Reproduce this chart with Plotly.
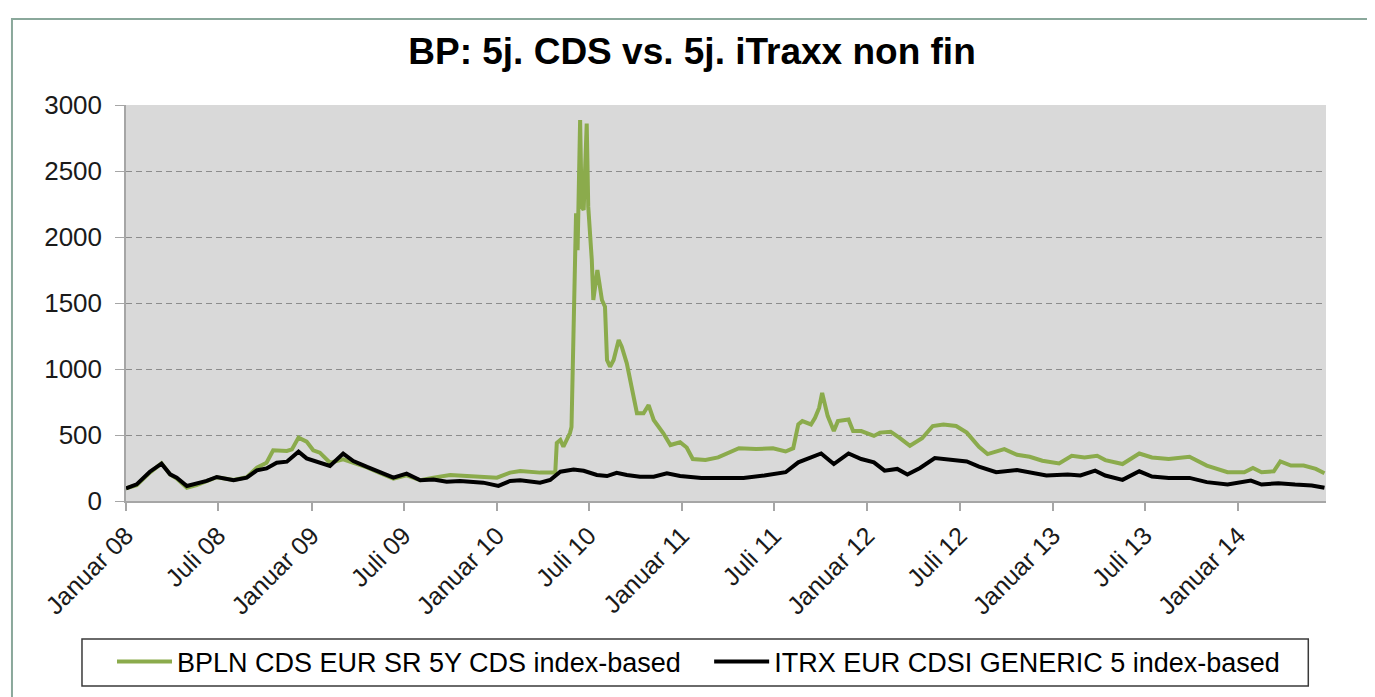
import plotly.graph_objects as go

# ---- data ----
green_dates = [
    "2008-01-01", "2008-01-22", "2008-02-17", "2008-03-11", "2008-03-28", "2008-04-10", "2008-04-30",
    "2008-05-19", "2008-06-08", "2008-06-28", "2008-07-31", "2008-08-26", "2008-09-15", "2008-10-04",
    "2008-10-17", "2008-11-13", "2008-11-23", "2008-12-06", "2008-12-22", "2009-01-04", "2009-01-17",
    "2009-02-06", "2009-03-04", "2009-03-24", "2009-04-20", "2009-05-16", "2009-06-11", "2009-07-07",
    "2009-08-03", "2009-08-29", "2009-10-01", "2009-11-03", "2010-01-01", "2010-01-27", "2010-02-16",
    "2010-03-27", "2010-04-26", "2010-04-29", "2010-05-06", "2010-05-12", "2010-05-25", "2010-05-28",
    "2010-05-31", "2010-06-06", "2010-06-09", "2010-06-14", "2010-06-17", "2010-06-21", "2010-06-27",
    "2010-06-30", "2010-07-07", "2010-07-10", "2010-07-18", "2010-07-27", "2010-08-02", "2010-08-06",
    "2010-08-12", "2010-08-19", "2010-08-29", "2010-09-04", "2010-09-14", "2010-09-24", "2010-10-04",
    "2010-10-17", "2010-10-27", "2010-11-06", "2010-11-25", "2010-12-09", "2010-12-28", "2011-01-10",
    "2011-01-22", "2011-02-16", "2011-03-13", "2011-04-23", "2011-05-27", "2011-06-29", "2011-07-24",
    "2011-08-08", "2011-08-18", "2011-08-26", "2011-09-12", "2011-09-20", "2011-09-28", "2011-10-04",
    "2011-10-15", "2011-10-27", "2011-11-04", "2011-11-25", "2011-12-04", "2011-12-20", "2012-01-14",
    "2012-01-26", "2012-02-16", "2012-03-04", "2012-03-25", "2012-04-18", "2012-05-09", "2012-05-30",
    "2012-06-24", "2012-07-15", "2012-08-08", "2012-08-25", "2012-09-27", "2012-10-22", "2012-11-16",
    "2012-12-11", "2013-01-13", "2013-02-07", "2013-03-04", "2013-03-29", "2013-04-14", "2013-05-18",
    "2013-06-20", "2013-07-15", "2013-08-17", "2013-09-27", "2013-10-31", "2013-12-11", "2014-01-13",
    "2014-01-30", "2014-02-16", "2014-03-12", "2014-03-25", "2014-04-15", "2014-05-10", "2014-06-03",
    "2014-06-20",
]
green_values = [
    95, 120, 215, 285, 200, 170, 101,
    120, 150, 180, 160, 180, 252, 290,
    384, 379, 391, 480, 450, 384, 366,
    290, 315, 290, 255, 210, 170, 195,
    157, 177, 197, 189, 177, 215, 227,
    215, 215, 439, 462, 411, 515, 560,
    1220, 2180, 1900, 2886, 2230, 2205, 2860,
    2230, 1826, 1523, 1750, 1523, 1472, 1068,
    1017, 1068, 1220, 1169, 1043, 841, 665,
    665, 727, 614, 513, 424, 445, 405,
    318, 310, 330, 400, 393, 400, 375,
    400, 580, 605, 580, 630, 705, 818,
    643, 530, 605, 618, 530, 530, 493,
    518, 525, 480, 418, 475, 568, 580,
    568, 518, 410, 355, 393, 350, 335,
    305, 285, 343, 330, 343, 310, 280,
    360, 330, 318, 335, 268, 218, 218,
    250, 218, 225, 300, 268, 268, 243,
    210,
]

black_dates = [
    "2008-01-01", "2008-01-22", "2008-02-17", "2008-03-11", "2008-03-28", "2008-04-10", "2008-04-30",
    "2008-05-19", "2008-06-08", "2008-06-28", "2008-07-31", "2008-08-26", "2008-09-15", "2008-10-04",
    "2008-10-24", "2008-11-13", "2008-12-06", "2008-12-22", "2009-01-11", "2009-02-06", "2009-03-04",
    "2009-03-24", "2009-04-20", "2009-05-16", "2009-06-11", "2009-07-07", "2009-08-03", "2009-08-29",
    "2009-09-24", "2009-10-20", "2009-11-16", "2009-12-05", "2010-01-04", "2010-01-27", "2010-02-16",
    "2010-03-27", "2010-04-16", "2010-05-06", "2010-06-01", "2010-06-21", "2010-07-17", "2010-08-06",
    "2010-08-25", "2010-09-14", "2010-10-10", "2010-11-06", "2010-12-02", "2010-12-28", "2011-02-08",
    "2011-03-21", "2011-05-02", "2011-06-12", "2011-07-24", "2011-08-18", "2011-09-12", "2011-10-02",
    "2011-10-27", "2011-11-25", "2011-12-20", "2012-01-14", "2012-02-04", "2012-02-29", "2012-03-20",
    "2012-04-14", "2012-05-13", "2012-06-11", "2012-07-15", "2012-08-08", "2012-09-11", "2012-10-22",
    "2012-11-16", "2012-12-19", "2013-01-30", "2013-02-24", "2013-03-25", "2013-04-14", "2013-05-18",
    "2013-06-20", "2013-07-15", "2013-08-17", "2013-09-27", "2013-10-31", "2013-12-11", "2014-01-26",
    "2014-02-16", "2014-03-21", "2014-04-23", "2014-05-26", "2014-06-20",
]
black_values = [
    96, 126, 222, 283, 202, 177, 114,
    131, 152, 182, 157, 177, 232, 247,
    290, 298, 374, 323, 295, 265, 359,
    303, 258, 215, 177, 207, 157, 162,
    146, 152, 146, 139, 114, 152, 157,
    139, 159, 222, 239, 229, 197, 189,
    214, 197, 184, 184, 210, 190, 175,
    175, 175, 193, 218, 293, 330, 360,
    280, 360, 318, 293, 230, 243, 200,
    250, 325, 310, 300, 260, 218, 235,
    218, 193, 200, 193, 230, 193, 160,
    225, 185, 175, 175, 143, 125, 155,
    125, 135, 125, 118, 100,
]

tick_dates = [
    "2008-01-01", "2008-07-01", "2009-01-01", "2009-07-01", "2010-01-01", "2010-07-01", "2011-01-01",
    "2011-07-01", "2012-01-01", "2012-07-01", "2013-01-01", "2013-07-01", "2014-01-01",
]
tick_labels = [
    "Januar 08", "Juli 08", "Januar 09", "Juli 09", "Januar 10", "Juli 10", "Januar 11",
    "Juli 11", "Januar 12", "Juli 12", "Januar 13", "Juli 13", "Januar 14",
]
y_ticks = [0, 500, 1000, 1500, 2000, 2500, 3000]

name_green = "BPLN CDS EUR SR 5Y CDS index-based"
name_black = "ITRX EUR CDSI GENERIC 5 index-based"
title_text = "BP: 5j. CDS vs. 5j. iTraxx non fin"

FONT = "Liberation Sans, Arial, sans-serif"

# the page body adds an 8px offset; work in window pixels and shift
OFF = 8
W, H = 1375, 697
PL, PR, PT, PB = 126, 1325.7, 105, 501          # plot area in window pixels
L, T = PL - OFF, PT - OFF
pw, ph = PR - PL, PB - PT
R, B = W - L - pw, H - T - ph


def px(xw):
    return (xw - PL) / pw


def py(yw):
    return (PB - yw) / ph


fig = go.Figure()
fig.add_trace(go.Scatter(x=green_dates, y=green_values, mode="lines", name=name_green,
                         line=dict(color="#8bab4c", width=4), legend="legend"))
fig.add_trace(go.Scatter(x=black_dates, y=black_values, mode="lines", name=name_black,
                         line=dict(color="#000000", width=4), legend="legend2"))

shapes = [
    # outer chart frame
    dict(type="rect", xref="paper", yref="paper", x0=px(12), x1=px(1373), y0=py(710), y1=py(19),
         line=dict(color="#8aa89b", width=2), fillcolor="rgba(0,0,0,0)", layer="below"),
    # legend box
    dict(type="rect", xref="paper", yref="paper", x0=px(82), x1=px(1308), y0=py(686), y1=py(639),
         line=dict(color="#3a3a3a", width=1.5), fillcolor="rgba(0,0,0,0)"),
]

leg_common = dict(orientation="h", xanchor="left", yanchor="middle", bgcolor="rgba(0,0,0,0)",
                  borderwidth=0, font=dict(size=27, color="#000000", family=FONT), itemwidth=55)

fig.update_layout(
    width=W, height=H,
    margin=dict(l=L, r=R, t=T, b=B),
    paper_bgcolor="white",
    plot_bgcolor="#d9d9d9",
    font=dict(family=FONT, color="#1a1a1a", size=24),
    title=dict(text="<b>" + title_text + "</b>", x=(692 - OFF) / W, xanchor="center",
               y=1 - (51 - OFF) / H, yanchor="middle", font=dict(size=37, color="#000000", family=FONT)),
    showlegend=True,
    legend=dict(x=px(112), y=py(662), **leg_common),
    legend2=dict(x=px(709), y=py(662), **leg_common),
    shapes=shapes,
    xaxis=dict(
        type="date", range=["2008-01-01", "2014-06-23"],
        tickmode="array", tickvals=tick_dates, ticktext=tick_labels, tickangle=-45,
        showgrid=False, zeroline=False,
        showline=True, linecolor="#a6a6a6", linewidth=2,
        ticks="outside", ticklen=8, tickcolor="#a6a6a6", tickwidth=1.5,
        tickfont=dict(size=25, color="#1a1a1a"),
    ),
    yaxis=dict(
        range=[0, 3000], tickmode="array", tickvals=y_ticks,
        showgrid=True, gridcolor="#8c8c8c", griddash="6px,4px", gridwidth=1,
        zeroline=False, showline=True, linecolor="#a6a6a6", linewidth=1.5,
        ticks="outside", ticklen=9, tickcolor="#a6a6a6", tickwidth=1,
        ticklabelstandoff=8,
        tickfont=dict(size=26, color="#1a1a1a"),
    ),
)

fig.write_html("out.html")
